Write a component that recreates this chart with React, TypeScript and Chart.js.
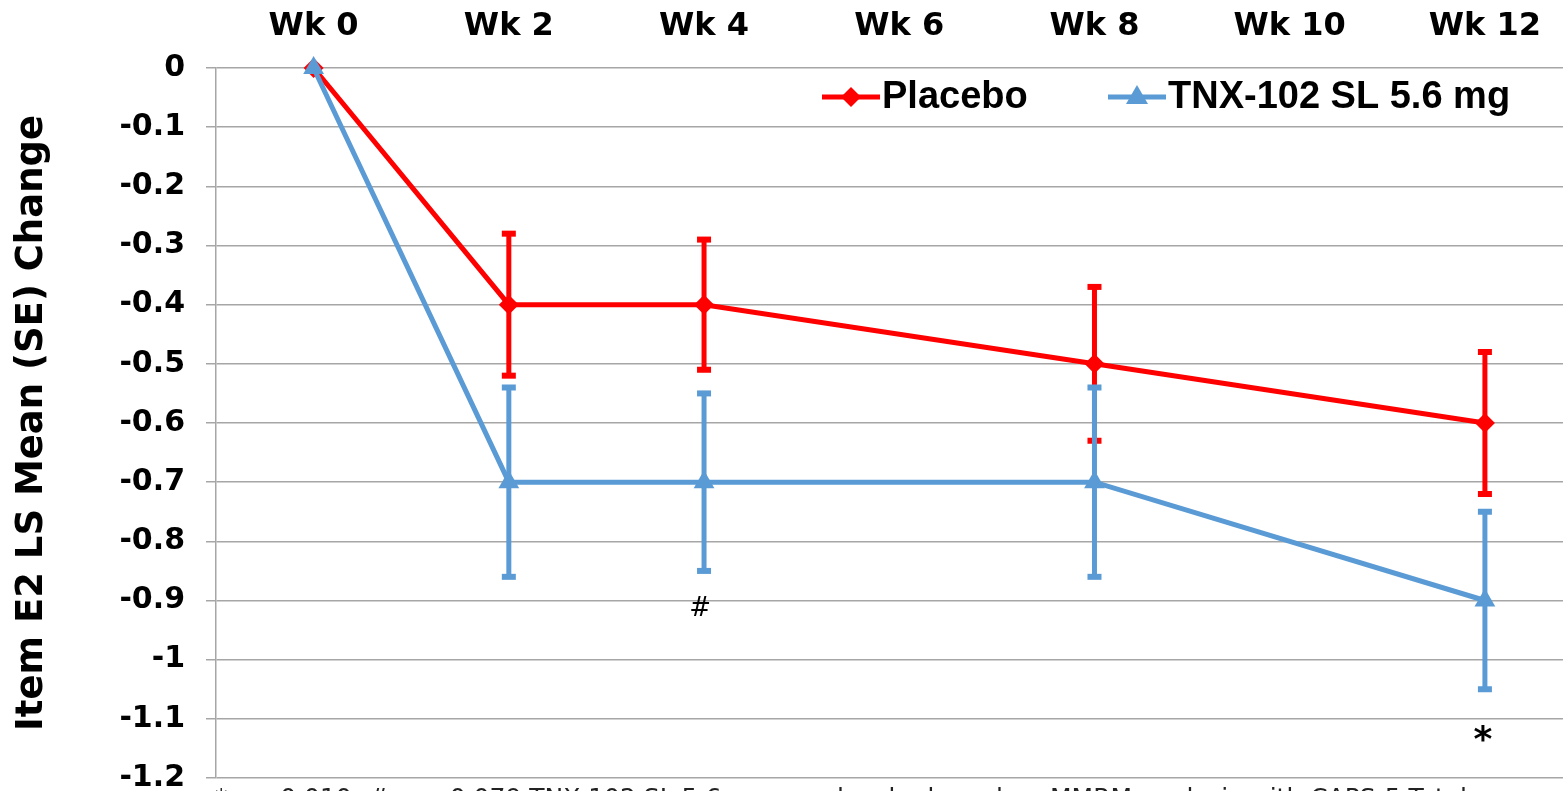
import React, { useEffect, useRef } from "react";
import { Chart, registerables } from "chart.js";

Chart.register(...registerables);

const weeks = [0, 2, 4, 8, 12];
const tickWeeks = [0, 2, 4, 6, 8, 10, 12];
const tickLabels = ["Wk 0", "Wk 2", "Wk 4", "Wk 6", "Wk 8", "Wk 10", "Wk 12"];
const placeboMean = [0, -0.4, -0.4, -0.5, -0.6];
const placeboSE = [0, 0.12, 0.11, 0.13, 0.12];
const tnxMean = [0, -0.7, -0.7, -0.7, -0.9];
const tnxSE = [0, 0.16, 0.15, 0.16, 0.15];
const seriesNames = ["Placebo", "TNX-102 SL 5.6 mg"];
const annotations = [
  { week: 4, value: -0.915, text: "#" },
  { week: 12, value: -1.12, text: "*" },
];
const footnote =
  "*p = 0.010; # p = 0.079 TNX-102 SL 5.6 mg vs. placebo based on MMRM analysis with CAPS-5 Total";

const RED = "#ff0000";
const BLUE = "#5b9bd5";

export default function App() {
  const ref = useRef<HTMLCanvasElement | null>(null);

  useEffect(() => {
    if (!ref.current) return;

    const errorBars = {
      id: "errorBars",
      beforeDatasetsDraw(chart: any) {
        const { ctx } = chart;
        const xs = chart.scales.x;
        const ys = chart.scales.y;
        const sets = [
          { m: placeboMean, se: placeboSE, c: RED },
          { m: tnxMean, se: tnxSE, c: BLUE },
        ];
        ctx.save();
        sets.forEach((s) => {
          ctx.strokeStyle = s.c;
          ctx.fillStyle = s.c;
          weeks.forEach((w, i) => {
            if (!s.se[i]) return;
            const x = xs.getPixelForValue(w);
            const y1 = ys.getPixelForValue(s.m[i] + s.se[i]);
            const y2 = ys.getPixelForValue(s.m[i] - s.se[i]);
            ctx.lineWidth = 5;
            ctx.beginPath();
            ctx.moveTo(x, y1);
            ctx.lineTo(x, y2);
            ctx.stroke();
            ctx.fillRect(x - 7, y1 - 3, 14, 6);
            ctx.fillRect(x - 7, y2 - 3, 14, 6);
          });
        });
        ctx.restore();
      },
      afterDraw(chart: any) {
        const { ctx } = chart;
        const xs = chart.scales.x;
        const ys = chart.scales.y;
        ctx.save();
        // legend
        const ly = 97;
        ctx.lineWidth = 5;
        ctx.strokeStyle = RED;
        ctx.fillStyle = RED;
        ctx.beginPath();
        ctx.moveTo(822, ly);
        ctx.lineTo(880, ly);
        ctx.stroke();
        ctx.beginPath();
        ctx.moveTo(851, ly - 10);
        ctx.lineTo(861, ly);
        ctx.lineTo(851, ly + 10);
        ctx.lineTo(841, ly);
        ctx.closePath();
        ctx.fill();
        ctx.strokeStyle = BLUE;
        ctx.fillStyle = BLUE;
        ctx.beginPath();
        ctx.moveTo(1108, ly);
        ctx.lineTo(1166, ly);
        ctx.stroke();
        ctx.beginPath();
        ctx.moveTo(1137, ly - 12);
        ctx.lineTo(1148, ly + 7);
        ctx.lineTo(1126, ly + 7);
        ctx.closePath();
        ctx.fill();
        ctx.fillStyle = "#000";
        ctx.font = "bold 38px 'Liberation Sans'";
        ctx.textBaseline = "middle";
        ctx.textAlign = "left";
        ctx.fillText(seriesNames[0], 882, ly + 1);
        ctx.fillText(seriesNames[1], 1168, ly + 1);

        // annotations
        ctx.textAlign = "center";
        ctx.textBaseline = "middle";
        ctx.font = "26px 'DejaVu Sans'";
        ctx.fillText(annotations[0].text, xs.getPixelForValue(annotations[0].week) - 4, ys.getPixelForValue(annotations[0].value));
        ctx.font = "bold 36px 'DejaVu Sans'";
        ctx.textBaseline = "alphabetic";
        ctx.fillText(annotations[1].text, xs.getPixelForValue(annotations[1].week) - 2, ys.getPixelForValue(annotations[1].value) + 20);

        // footnote (clipped at the bottom of the page)
        ctx.textAlign = "left";
        ctx.font = "25px 'DejaVu Sans'";
        ctx.fillStyle = "#222";
        ctx.fillText(footnote, 215, 806);
        ctx.restore();
      },
    };

    const chart = new Chart(ref.current, {
      type: "line",
      data: {
        datasets: [
          {
            label: seriesNames[0],
            data: weeks.map((w, i) => ({ x: w, y: placeboMean[i] })),
            borderColor: RED,
            backgroundColor: RED,
            borderWidth: 5,
            pointStyle: "rectRot",
            pointRadius: 10,
            pointHoverRadius: 10,
            pointBorderWidth: 0,
            clip: false,
            order: 2,
          },
          {
            label: seriesNames[1],
            data: weeks.map((w, i) => ({ x: w, y: tnxMean[i] })),
            borderColor: BLUE,
            backgroundColor: BLUE,
            borderWidth: 5,
            pointStyle: "triangle",
            pointRadius: 12,
            pointHoverRadius: 12,
            pointBorderWidth: 0,
            clip: false,
            order: 1,
          },
        ],
      },
      options: {
        responsive: false,
        animation: false,
        layout: { padding: { left: 0, right: 0, top: 0, bottom: 13 } },
        plugins: {
          legend: { display: false },
          tooltip: { enabled: false },
        },
        scales: {
          x: {
            type: "linear",
            position: "top",
            min: -1,
            max: 12.8,
            afterFit: (s: any) => {
              s.height = 68;
            },
            afterBuildTicks: (s: any) => {
              s.ticks = tickWeeks.map((v) => ({ value: v }));
            },
            grid: { display: false, drawTicks: false },
            border: { display: false },
            ticks: {
              padding: 22,
              color: "#000",
              font: { family: "'DejaVu Sans'", size: 32, weight: "bold" },
              callback: (v: any) => tickLabels[tickWeeks.indexOf(v)] ?? "",
            },
          },
          y: {
            type: "linear",
            min: -1.2,
            max: 0,
            afterFit: (s: any) => {
              s.width = 216;
            },
            grid: { color: "#a6a6a6", lineWidth: 1.5, tickLength: 10 },
            border: { color: "#a6a6a6", width: 1.5 },
            ticks: {
              stepSize: 0.1,
              padding: 21,
              color: "#000",
              font: { family: "'DejaVu Sans'", size: 30, weight: "bold" },
              callback: (v: any) => String(Math.round(Number(v) * 10) / 10),
            },
            title: {
              display: true,
              text: "Item E2 LS Mean (SE) Change",
              color: "#000",
              font: { family: "'DejaVu Sans'", size: 37, weight: "bold" },
              padding: { top: 10, bottom: 0 },
            },
          },
        },
      },
      plugins: [errorBars],
    });
    return () => chart.destroy();
  }, []);

  return (
    <div style={{ position: "fixed", left: 0, top: 0, width: 1565, height: 791, overflow: "hidden", background: "#fff" }}>
      <canvas ref={ref} width={1575} height={817} style={{ display: "block" }} />
    </div>
  );
}
